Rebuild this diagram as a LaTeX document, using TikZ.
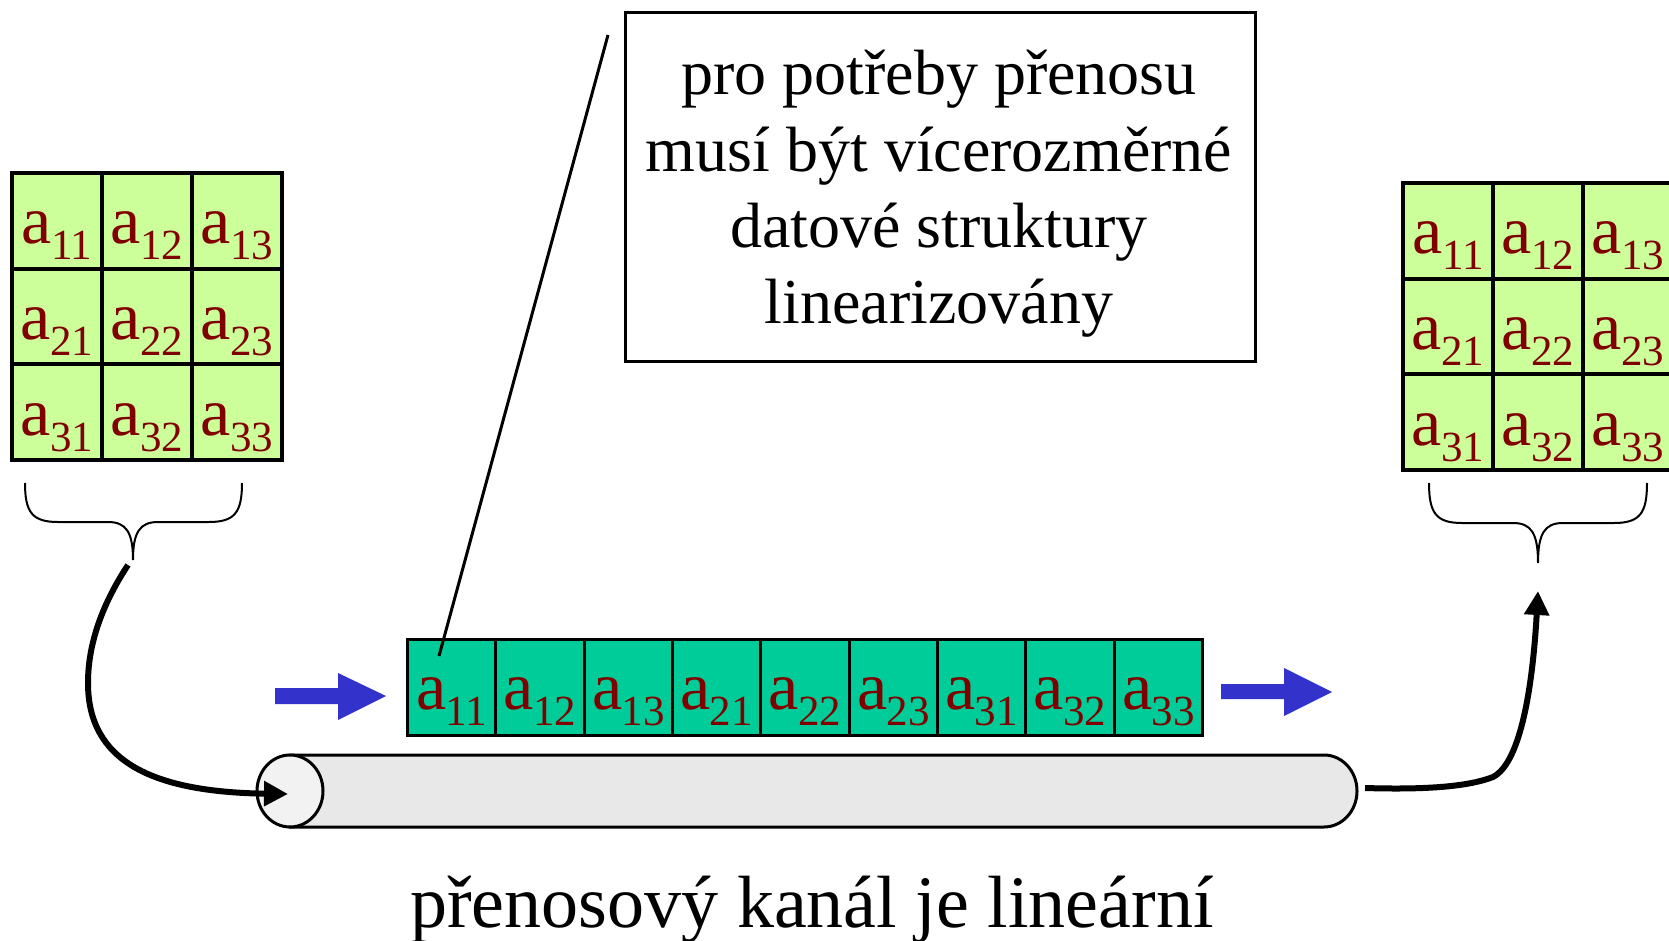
\documentclass[tikz,border=0pt]{standalone}
\usepackage{fontspec}
\setmainfont{Liberation Serif}
\usetikzlibrary{arrows.meta}
\definecolor{cellgreen}{HTML}{CCFF99}
\definecolor{stripgreen}{HTML}{00CC99}
\definecolor{txtred}{HTML}{800000}
\definecolor{flowblue}{HTML}{3333CC}
\definecolor{tubegray}{HTML}{E8E8E8}
\definecolor{facegray}{HTML}{F2F2F2}
\newcommand{\elemtext}[2]{a\kern-0.3pt\raisebox{-8pt}{\fontsize{21.5}{21.5}\selectfont #1#2}}
\begin{document}
\begin{tikzpicture}[x=0.5pt,y=-0.5pt,
  gridcell/.style={draw=black, line width=2pt, fill=cellgreen, minimum width=45pt, minimum height=47.8pt, inner sep=0pt, anchor=north west},
  stripcell/.style={draw=black, line width=1.5pt, fill=stripgreen, minimum width=44.17pt, minimum height=48pt, inner sep=0pt, anchor=north west},
  elemtxt/.style={text=txtred, font=\fontsize{34}{34}\selectfont, inner sep=0pt, anchor=base},
  notetxt/.style={font=\fontsize{32}{38}\selectfont, inner sep=0pt, anchor=base},
  bracepath/.style={draw=black, line width=1pt},
  flow/.style={draw=black, line width=3pt, -{Triangle[length=12pt,width=12pt]}},
  bluearrow/.style={fill=flowblue, draw=none}
]
\useasboundingbox (0,0) rectangle (1669,941);

% left grid
\foreach \r in {1,2,3}{
  \foreach \c in {1,2,3}{
    \node[gridcell] (L\r\c) at ({10+(\c-1)*90},{171+(\r-1)*95.67}) {};
    \node[elemtxt] (LT\r\c) at ([yshift=-11.5pt]L\r\c.center) {\elemtext{\r}{\c}};
  }
}
% right grid
\foreach \r in {1,2,3}{
  \foreach \c in {1,2,3}{
    \node[gridcell] (R\r\c) at ({1401+(\c-1)*90},{181+(\r-1)*95.67}) {};
    \node[elemtxt] (RT\r\c) at ([yshift=-11.5pt]R\r\c.center) {\elemtext{\r}{\c}};
  }
}
% linear strip
\foreach \r in {1,2,3}{
  \foreach \c in {1,2,3}{
    \pgfmathtruncatemacro{\idx}{(\r-1)*3+\c-1}
    \node[stripcell] (S\r\c) at ({406+\idx*88.33},638) {};
    \node[elemtxt] (ST\r\c) at ([yshift=-11pt]S\r\c.center) {\elemtext{\r}{\c}};
  }
}

% braces
\draw[bracepath] (25,483) .. controls (25,512) and (32,522) .. (58,522) -- (108,522)
  .. controls (126,522) and (133,532) .. (133,560)
  .. controls (133,532) and (140,522) .. (158,522) -- (209,522)
  .. controls (235,522) and (242,512) .. (242,483);
\draw[bracepath] (1429,483) .. controls (1429,513) and (1436,523) .. (1462,523) -- (1513,523)
  .. controls (1531,523) and (1538,533) .. (1538,563)
  .. controls (1538,533) and (1545,523) .. (1563,523) -- (1614,523)
  .. controls (1640,523) and (1647,513) .. (1647,483);

% blue arrows
\fill[bluearrow] (275,688) -- (338,688) -- (338,673) -- (386,696) -- (338,720) -- (338,704) -- (275,704) -- cycle;
\fill[bluearrow] (1221,684) -- (1284,684) -- (1284,668) -- (1332,692) -- (1284,716) -- (1284,699) -- (1221,699) -- cycle;

% tube
\draw[fill=tubegray, line width=1.5pt] (290,755) -- (1324,755)
  arc[start angle=90, end angle=-90, x radius=16.5pt, y radius=18pt] -- (290,827) -- cycle;
\draw[fill=facegray, line width=1.5pt] (290,791) ellipse [x radius=16.5pt, y radius=18pt];

\coordinate (lstart) at (128,565);
\coordinate (tubein) at (288,794);
\coordinate (tubeout) at (1365,788);
\coordinate (rend) at (1538,591);

\draw[flow] (lstart) .. controls (105,600) and (88,640) .. (88,683)
  .. controls (88,760) and (150,792) .. (tubein);
\draw[flow] (tubeout) .. controls (1430,790) and (1470,786) .. (1493,777)
  .. controls (1522,762) and (1533,680) .. (rend);

% note box
\node[draw=black, line width=1.5pt, minimum width=315pt, minimum height=174.5pt, anchor=north west, inner sep=0pt] (note) at (624,11) {};
\node[notetxt] (n1) at (939,95) {pro potřeby přenosu};
\node[notetxt] (n2) at (939,172) {musí být vícerozměrné};
\node[notetxt] (n3) at (939,248) {datové struktury};
\node[notetxt] (n4) at (939,323) {linearizovány};

\coordinate (calltop) at (608,35);
\coordinate (callbot) at (439,656);
\draw[line width=1.5pt] (calltop) -- (callbot);

% caption
\node[font=\fontsize{37}{44}\selectfont, inner sep=0pt, anchor=base] (caption) at (812,927) {přenosový kanál je lineární};
\end{tikzpicture}
\end{document}
